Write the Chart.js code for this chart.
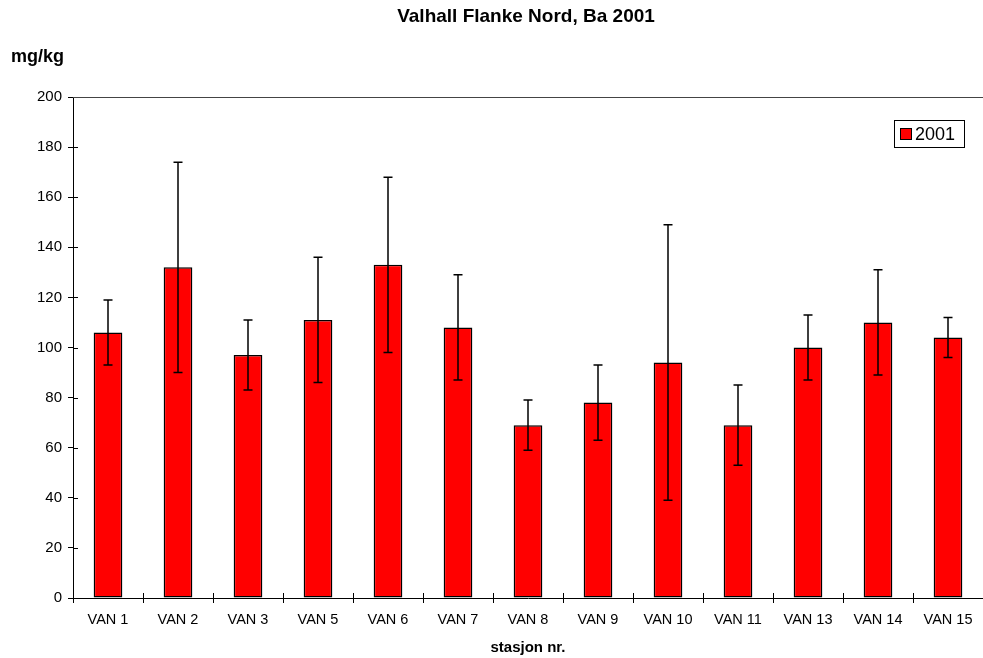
<!DOCTYPE html>
<html>
<head>
<meta charset="utf-8">
<title>Valhall Flanke Nord, Ba 2001</title>
<script src="https://cdn.jsdelivr.net/npm/chart.js@4.4.1/dist/chart.umd.min.js"></script>
<style>
  html, body { margin: 0; padding: 0; background: #fff; }
  canvas { display: block; }
</style>
</head>
<body>
<canvas id="myChart" width="983" height="658"></canvas>
<script>
// Data
const stations = ["VAN 1", "VAN 2", "VAN 3", "VAN 5", "VAN 6", "VAN 7", "VAN 8",
  "VAN 9", "VAN 10", "VAN 11", "VAN 13", "VAN 14", "VAN 15"];
const baValues = [106, 132, 97, 111, 133, 108, 69, 78, 94, 69, 100, 110, 104];
const baErrors = [13, 42, 14, 25, 35, 21, 10, 15, 55, 16, 13, 21, 8];
const yMin = 0;
const yMax = 200;
const yStep = 20;

const FONT = "Arial, 'Liberation Sans', sans-serif";
const chartTitle = "Valhall Flanke Nord, Ba 2001";

// Error bars, inner tick halves, top frame line, titles and legend box
const extras = {
  id: "extras",
  afterDatasetsDraw(chart) {
    const ctx = chart.ctx;
    const x = chart.scales.x;
    const y = chart.scales.y;
    const ds = chart.data.datasets[0];

    // error bars
    ctx.save();
    ctx.strokeStyle = "#000";
    ctx.lineWidth = 1.5;
    ds.data.forEach((v, i) => {
      const cx = x.getPixelForValue(i);
      const top = y.getPixelForValue(v + ds.errors[i]);
      const bot = y.getPixelForValue(v - ds.errors[i]);
      ctx.beginPath();
      ctx.moveTo(cx, top);
      ctx.lineTo(cx, bot);
      ctx.moveTo(cx - 4.5, top);
      ctx.lineTo(cx + 4.5, top);
      ctx.moveTo(cx - 4.5, bot);
      ctx.lineTo(cx + 4.5, bot);
      ctx.stroke();
    });
    ctx.restore();
  },
  afterDraw(chart) {
    const ctx = chart.ctx;
    const y = chart.scales.y;
    const area = chart.chartArea;

    ctx.save();
    ctx.strokeStyle = "#000";
    ctx.lineWidth = 1;

    // ticks cross the axis lines
    y.ticks.forEach((t, i) => {
      const py = Math.round(y.getPixelForTick(i)) + 0.5;
      ctx.beginPath();
      ctx.moveTo(area.left, py);
      ctx.lineTo(area.left + 5, py);
      ctx.stroke();
    });
    for (let i = 0; i <= stations.length; i++) {
      const px = Math.round(area.left + (area.right - area.left) * i / stations.length) + 0.5;
      ctx.beginPath();
      ctx.moveTo(px, area.bottom);
      ctx.lineTo(px, area.bottom - 5);
      ctx.stroke();
    }

    // top frame line
    ctx.strokeStyle = "#444";
    ctx.beginPath();
    ctx.moveTo(area.left, Math.round(area.top) + 0.5);
    ctx.lineTo(area.right, Math.round(area.top) + 0.5);
    ctx.stroke();

    // chart title, centred over the plot
    ctx.fillStyle = "#000";
    ctx.font = "bold 19px " + FONT;
    ctx.textBaseline = "middle";
    ctx.textAlign = "center";
    ctx.fillText(chartTitle, 526, 17);

    // unit label
    ctx.font = "bold 18px " + FONT;
    ctx.textAlign = "left";
    ctx.fillText("mg/kg", 11, 57);

    // legend box
    const ds = chart.data.datasets[0];
    ctx.lineWidth = 1;
    ctx.strokeStyle = "#000";
    ctx.strokeRect(894.5, 120.5, 70, 27);
    ctx.fillStyle = ds.backgroundColor;
    ctx.fillRect(900, 128, 12, 12);
    ctx.strokeRect(900.5, 128.5, 11, 11);
    ctx.fillStyle = "#000";
    ctx.font = "18px " + FONT;
    ctx.fillText(ds.label, 915, 135);
    ctx.restore();
  }
};

const ctx = document.getElementById("myChart").getContext("2d");

const config = {
  type: "bar",
  data: {
    labels: stations,
    datasets: [
      {
        label: "2001",
        data: baValues,
        errors: baErrors,
        backgroundColor: "#FF0000",
        borderColor: "#000",
        borderWidth: 1.5,
        borderSkipped: false,
        barPercentage: 0.41,
        categoryPercentage: 1,
      },
    ],
  },
  options: {
    responsive: false,
    animation: false,
    layout: { padding: { top: 97, left: 0, right: 0, bottom: 0 } },
    scales: {
      x: {
        offset: true,
        grid: {
          offset: true,
          drawOnChartArea: false,
          tickLength: 5,
          color: "#000",
        },
        border: { color: "#000", width: 1 },
        ticks: {
          color: "#000",
          padding: 8,
          maxRotation: 0,
          font: { family: FONT, size: 14.5 },
        },
        title: {
          display: true,
          text: "stasjon nr.",
          color: "#000",
          padding: { top: 0, bottom: 1 },
          font: { family: FONT, size: 15, weight: "bold" },
        },
        afterFit: (scale) => { scale.height = 60; },
      },
      y: {
        min: yMin,
        max: yMax,
        grid: {
          drawOnChartArea: false,
          tickLength: 5,
          color: "#000",
        },
        border: { color: "#000", width: 1 },
        ticks: {
          stepSize: yStep,
          color: "#000",
          padding: 6,
          font: { family: FONT, size: 15 },
        },
        afterFit: (scale) => { scale.width = 73; },
      },
    },
    plugins: {
      legend: { display: false },
      tooltip: { enabled: false },
      title: { display: false },
    },
  },
  plugins: [extras],
};

const myChart = new Chart(ctx, config);
</script>
</body>
</html>
